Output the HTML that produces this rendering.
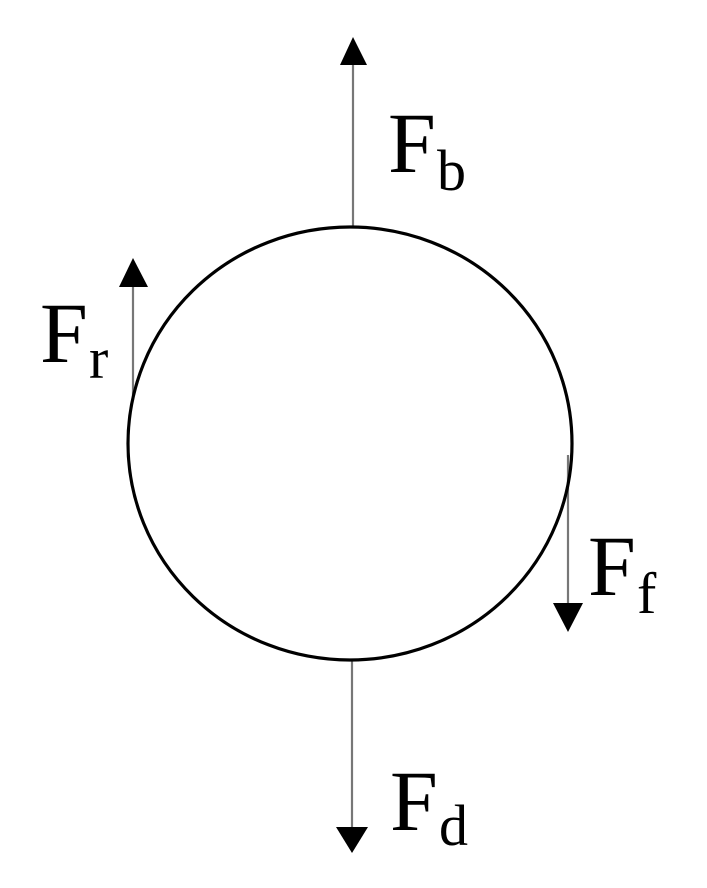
<!DOCTYPE html>
<html><head><style>html,body{margin:0;padding:0;background:#fff;}svg{display:block}
.t{font-family:"Liberation Serif","DejaVu Serif","Times New Roman",serif;fill:#000;}</style></head>
<body>
<svg width="707" height="888" viewBox="0 0 707 888" xmlns="http://www.w3.org/2000/svg">
<g stroke="#777" stroke-width="2.2" fill="none">
<line x1="353" y1="227" x2="353" y2="62"/>
<line x1="133" y1="400" x2="133" y2="284"/>
<line x1="568" y1="455" x2="568" y2="606"/>
<line x1="352" y1="660" x2="352" y2="830"/>
</g>
<ellipse cx="350" cy="443.5" rx="222" ry="216.5" fill="none" stroke="#000" stroke-width="3.2"/>
<g fill="#000">
<polygon points="353,37 340,65 367,65"/>
<polygon points="133,258 119,287 148,287"/>
<polygon points="568,632 553,603 583,603"/>
<polygon points="352,853 336,827 368,827"/>
</g>
<g class="t">
<text x="388" y="172" font-size="86">F</text><text x="437" y="190" font-size="58">b</text>
<text x="40" y="362" font-size="86">F</text><text x="89" y="378" font-size="58">r</text>
<text x="588" y="595" font-size="86">F</text><text x="637" y="613" font-size="58">f</text>
<text x="390" y="830" font-size="86">F</text><text x="439" y="845" font-size="58">d</text>
</g>
</svg>
</body></html>
